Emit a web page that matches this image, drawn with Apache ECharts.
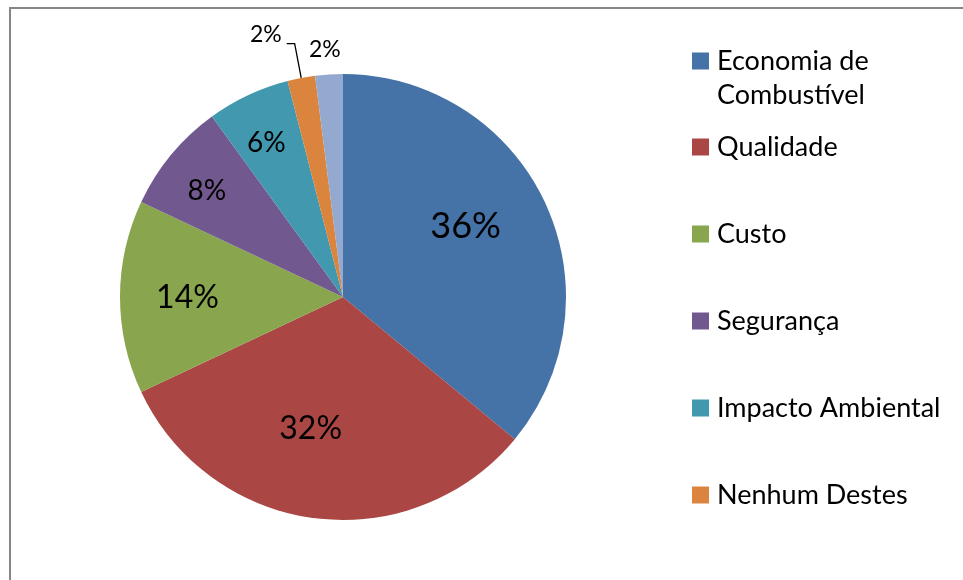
<!DOCTYPE html>
<html>
<head>
<meta charset="utf-8">
<script src="https://cdn.jsdelivr.net/npm/echarts@6/dist/echarts.min.js"></script>
<style>
html,body{margin:0;padding:0;background:#fff;}
#chart{width:963px;height:580px;}
</style>
</head>
<body>
<div id="chart"></div>
<script>
// Data
var categories = ['Economia de Combustível', 'Qualidade', 'Custo', 'Segurança', 'Impacto Ambiental', 'Nenhum Destes', 'Outros'];
var values = [36, 32, 14, 8, 6, 2, 2];
var colors = ['#4572A7', '#AA4643', '#89A54E', '#71588F', '#4198AF', '#DB843D', '#93A9CF'];

// Label styling per slice (font sizes) and nudges relative to the library's default label position
var labelSizes = [36, 32, 32, 28, 28, 23, 23];
var labelShift = [[19, -22], [-18, 18], [-41, 1], [-48, -33], [-28, -50], null, [-11, -133]];

var FONT = 'Lato';

var pieData = categories.map(function (name, i) {
  var item = {
    name: name,
    value: values[i],
    itemStyle: { color: colors[i] },
    label: { fontSize: labelSizes[i] }
  };
  if (i === 5) {
    item.label = {
      position: 'outside',
      fontSize: labelSizes[i],
      formatter: '{c}%\n',
      lineHeight: 17,
      distanceToLabelLine: 5
    };
    item.labelLine = { show: true, length: 35, length2: 8, smooth: false,
      lineStyle: { color: '#000', width: 1.3 } };
  }
  return item;
});

var chart = echarts.init(document.getElementById('chart'), null, { renderer: 'canvas' });
chart.setOption({
  animation: false,
  backgroundColor: '#ffffff',
  graphic: [{
    type: 'rect',
    shape: { x: 10, y: 8, width: 1200, height: 900 },
    style: { fill: 'none', stroke: '#868686', lineWidth: 2 },
    silent: true,
    z: -1
  }],
  legend: [{
    orient: 'vertical',
    left: 692,
    top: 10,
    padding: 0,
    icon: 'rect',
    itemWidth: 17,
    itemHeight: 17,
    data: [categories[0]],
    formatter: function (name) { return '\n' + name.replace(' de ', ' de\n'); },
    textStyle: { fontFamily: FONT, fontSize: 27, color: '#000', lineHeight: 34, padding: [0, 0, 0, 3] }
  }, {
    orient: 'vertical',
    left: 692,
    top: 130,
    padding: 0,
    icon: 'rect',
    itemWidth: 17,
    itemHeight: 17,
    itemGap: 53,
    data: categories.slice(1, 6),
    textStyle: { fontFamily: FONT, fontSize: 27, color: '#000', lineHeight: 34, padding: [0, 0, 0, 3] }
  }],
  series: [{
    type: 'pie',
    center: [343, 297],
    radius: [0, 223],
    startAngle: 90,
    clockwise: true,
    avoidLabelOverlap: false,
    data: pieData,
    itemStyle: { borderWidth: 0 },
    label: {
      show: true,
      position: 'inside',
      formatter: '{c}%',
      fontFamily: FONT,
      color: '#000'
    },
    labelLine: { show: false },
    labelLayout: function (params) {
      var s = labelShift[params.dataIndex];
      if (!s) { return {}; }
      return { dx: s[0], dy: s[1] };
    },
    emphasis: { disabled: true }
  }]
});
</script>
</body>
</html>
